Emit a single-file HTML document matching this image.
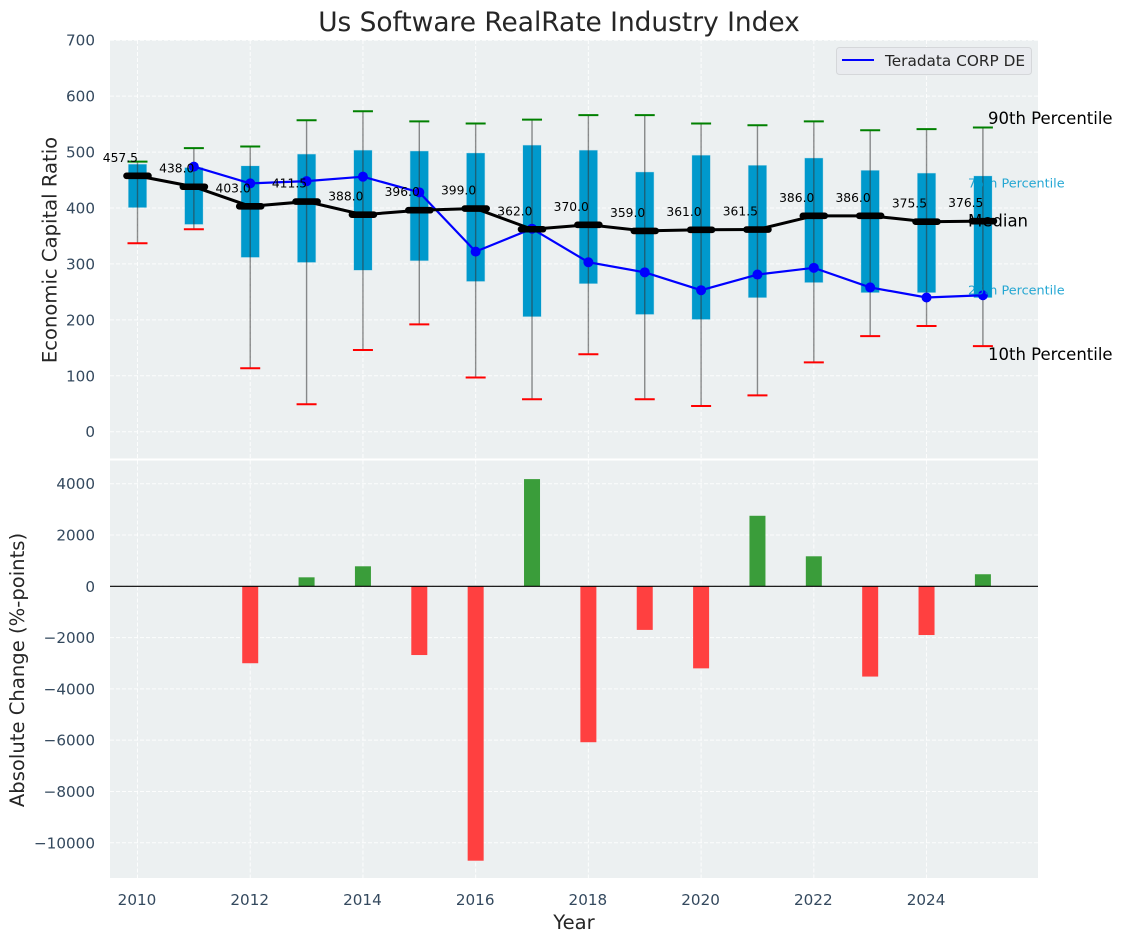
<!DOCTYPE html>
<html lang="en">
<head>
<meta charset="utf-8">
<title>Us Software RealRate Industry Index</title>
<style>
html,body{margin:0;padding:0;background:#fff;width:1123px;height:942px;overflow:hidden}
svg{display:block;font-family:"DejaVu Sans","Liberation Sans",sans-serif}
</style>
</head>
<body>
<svg id="chart" xmlns="http://www.w3.org/2000/svg" width="1123" height="942" viewBox="0 0 1123 942">
<text x="559" y="31" font-size="26.4" fill="#262626" text-anchor="middle">Us Software RealRate Industry Index</text>
<rect x="110" y="40" width="928" height="418.5" fill="#ecf0f1"/>
<rect x="110" y="460.5" width="928" height="417.5" fill="#ecf0f1"/>
<g id="grid"></g>
<g id="whiskers"></g>
<g id="boxes"></g>
<g id="whiskers2"></g>
<g id="bars"></g>
<line x1="110" x2="1038" y1="586.3" y2="586.3" stroke="#000" stroke-width="1.2"/>
<g id="company"></g>
<g id="median"></g>
<g id="labels"></g>
<g id="ticks"></g>
<text x="51" y="250" font-size="19.6" fill="#262626" text-anchor="middle" transform="rotate(-90 51 250)" dominant-baseline="middle">Economic Capital Ratio</text>
<text x="18.5" y="670" font-size="19.6" fill="#262626" text-anchor="middle" transform="rotate(-90 18.5 670)" dominant-baseline="middle">Absolute Change (%-points)</text>
<text x="574" y="929" font-size="19.6" fill="#262626" text-anchor="middle">Year</text>
<text x="988" y="124" font-size="16.5" fill="#000">90th Percentile</text>
<text x="968" y="187.5" font-size="12.8" fill="#0099cc" fill-opacity="0.85">75th Percentile</text>
<text x="968" y="226.5" font-size="16.5" fill="#000">Median</text>
<text x="968" y="294.5" font-size="12.8" fill="#0099cc" fill-opacity="0.85">25th Percentile</text>
<text x="988" y="360" font-size="16.5" fill="#000">10th Percentile</text>
<g>
<rect x="836.5" y="47.5" width="195" height="27" rx="3" fill="#e9ebef" stroke="#d5d7da" stroke-width="1"/>
<line x1="842" x2="874" y1="60" y2="60" stroke="#0000ff" stroke-width="2"/>
<text x="885" y="66" font-size="15.3" fill="#262626">Teradata CORP DE</text>
</g>
</svg>
<script>
const years = [2010,2011,2012,2013,2014,2015,2016,2017,2018,2019,2020,2021,2022,2023,2024,2025];
const medianValues = [457.5,438,403,411.5,388,396,399,362,370,359,361,361.5,386,386,375.5,376.5];
const p90Values = [483,507,510,557,573,555,551,558,566,566,551,548,555,539,541,544];
const p75Values = [478,472,475,496,503,501.5,498,512,503,464,494,476,489,467,462,457];
const p25Values = [401,371,312,303,289,306,269,206,265,210,201,240,267,249,249,240];
const p10Values = [337,362,113.5,49,146,192,97,58,138.5,58,46,65,124,171,189,153];
const companyYears = [2011,2012,2013,2014,2015,2016,2017,2018,2019,2020,2021,2022,2023,2024,2025];
const companyValues = [474,444,448,456,428,322,363,303,285,253,281,293,258,240,244];
const changeYears = [2012,2013,2014,2015,2016,2017,2018,2019,2020,2021,2022,2023,2024,2025];
const changeValues = [-3000,350,780,-2680,-10700,4180,-6080,-1700,-3200,2750,1170,-3520,-1900,470];
const xTickValues = [2010,2012,2014,2016,2018,2020,2022,2024];
const topTickValues = [0,100,200,300,400,500,600,700];
const bottomTickValues = [4000,2000,0,-2000,-4000,-6000,-8000,-10000];

const NS = 'http://www.w3.org/2000/svg';
function xAxis(v){ return 137.5 + (v - 2010) * 56.36; }
function yTop(v){ return 431.7 - v * 0.55925; }
function yBottom(v){ return 586.3 - v * 0.025645; }
function make(tag, parentId, attrs, text){
  const el = document.createElementNS(NS, tag);
  for (const k in attrs) el.setAttribute(k, attrs[k]);
  if (text !== undefined) el.textContent = text;
  document.getElementById(parentId).appendChild(el);
  return el;
}
function fmt(v){ return v < 0 ? '\u2212' + Math.abs(v) : String(v); }

xTickValues.forEach(function(v){
  const a = make('line','grid',{x1:xAxis(v),x2:xAxis(v),y1:40,y2:458.5,stroke:'#fff','stroke-width':1,'stroke-dasharray':'4 2','stroke-opacity':0.85});
  
  
  const b = make('line','grid',{x1:xAxis(v),x2:xAxis(v),y1:460.5,y2:878,stroke:'#fff','stroke-width':1,'stroke-dasharray':'4 2','stroke-opacity':0.85});
  
  
  const t = make('text','ticks',{x:xAxis(v)-0.5,y:905,'font-size':15.2,fill:'#34495e','text-anchor':'middle'},String(v));
  
  
});
topTickValues.forEach(function(v){
  const a = make('line','grid',{x1:110,x2:1038,y1:yTop(v),y2:yTop(v),stroke:'#fff','stroke-width':1,'stroke-dasharray':'4 2','stroke-opacity':0.85});
  
  
  const t = make('text','ticks',{x:95,y:yTop(v)+5.5,'font-size':15.2,fill:'#34495e','text-anchor':'end'},fmt(v));
  
  
});
bottomTickValues.forEach(function(v){
  const a = make('line','grid',{x1:110,x2:1038,y1:yBottom(v),y2:yBottom(v),stroke:'#fff','stroke-width':1,'stroke-dasharray':'4 2','stroke-opacity':0.85});
  
  
  const t = make('text','ticks',{x:95,y:yBottom(v)+5.5,'font-size':15.2,fill:'#34495e','text-anchor':'end'},fmt(v));
  
  
});

years.forEach(function(yr,i){
  const x = xAxis(yr);
  const box = make('rect','boxes',{x:x-9,y:yTop(p75Values[i]),width:18,height:yTop(p25Values[i])-yTop(p75Values[i]),fill:'#0099cc',stroke:'#0099cc','stroke-opacity':0.2,'stroke-width':1});
  
  
  const w = make('line','whiskers2',{x1:x,x2:x,y1:yTop(p90Values[i]),y2:yTop(p10Values[i]),stroke:'#333','stroke-width':1.4,'stroke-opacity':0.55});
  
  
  const hi = make('line','whiskers2',{x1:x-10,x2:x+10,y1:yTop(p90Values[i]),y2:yTop(p90Values[i]),stroke:'#008000','stroke-width':2});
  
  
  const lo = make('line','whiskers2',{x1:x-10,x2:x+10,y1:yTop(p10Values[i]),y2:yTop(p10Values[i]),stroke:'#ff0000','stroke-width':2});
  
  
});

changeYears.forEach(function(yr,i){
  const v = changeValues[i];
  const y0 = yBottom(0), y1 = yBottom(v);
  const b = make('rect','bars',{x:xAxis(yr)-8,y:Math.min(y0,y1),width:16,height:Math.abs(y1-y0),fill:v>=0?'#3a9d3a':'#ff4040'});
  
  
});

const companyLine = make('polyline','company',{points:companyYears.map(function(yr,i){return xAxis(yr)+','+yTop(companyValues[i]);}).join(' '),fill:'none',stroke:'#0000ff','stroke-width':2.2});


companyYears.forEach(function(yr,i){
  const c = make('circle','company',{cx:xAxis(yr),cy:yTop(companyValues[i]),r:5,fill:'#0000ff'});
  
  
});

const medianLine = make('polyline','median',{points:years.map(function(yr,i){return xAxis(yr)+','+yTop(medianValues[i]);}).join(' '),fill:'none',stroke:'#000','stroke-width':3});


years.forEach(function(yr,i){
  const x = xAxis(yr), y = yTop(medianValues[i]);
  const m = make('line','median',{x1:x-11,x2:x+11,y1:y,y2:y,stroke:'#000','stroke-width':6.6,'stroke-linecap':'round'});
  
  
  const t = make('text','labels',{x:x+0.5,y:y-14,'font-size':12.3,fill:'#000','text-anchor':'end'},medianValues[i].toFixed(1));
  
  
});
</script>
</body>
</html>
